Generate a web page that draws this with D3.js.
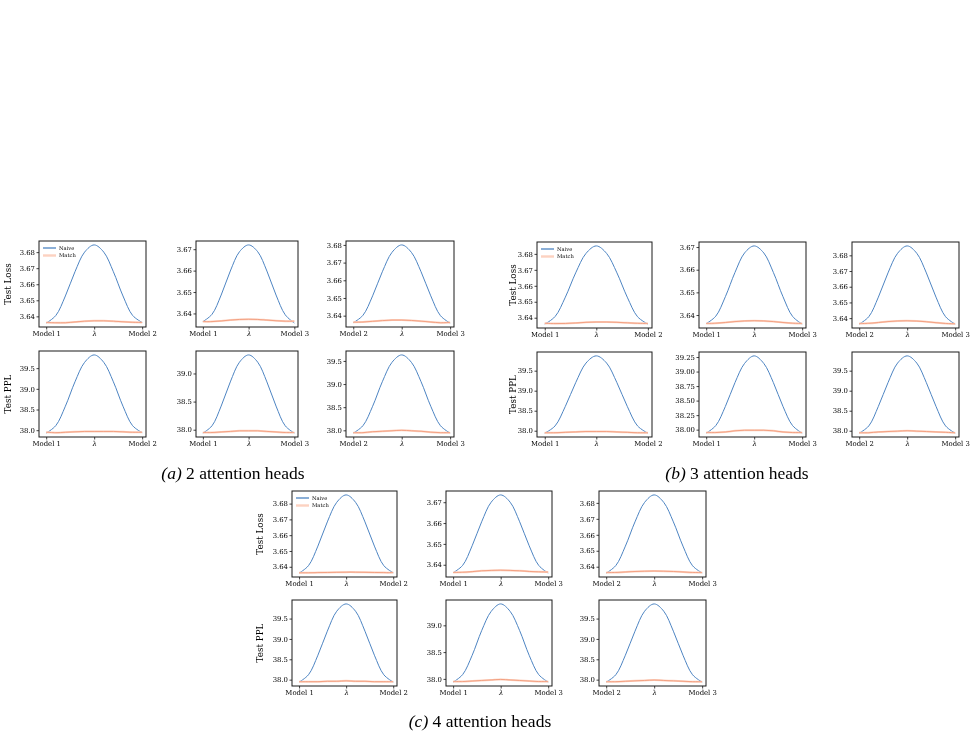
<!DOCTYPE html>
<html><head><meta charset="utf-8">
<script src="https://cdn.jsdelivr.net/npm/d3@7"></script>
<style>body{margin:0;background:#fff}svg{display:block}</style>
</head><body>
<svg id="c" width="973" height="750"></svg>
<script>
// ---------- DATA ----------
const lam = [0, 0.1, 0.2, 0.3, 0.4, 0.5, 0.6, 0.7, 0.8, 0.9, 1.0];
const seriesNames = ["Naive", "Match"];
const rowLabels = ["Test Loss", "Test PPL"];
const xLabels = [["Model 1", "λ", "Model 2"], ["Model 1", "λ", "Model 3"], ["Model 2", "λ", "Model 3"]];
const captions = ["2 attention heads", "3 attention heads", "4 attention heads"];
const captionTags = ["(a)", "(b)", "(c)"];

// Test loss, naive interpolation (per group: 3 panels)
const lossNaiveA = [
  [3.6358, 3.6405, 3.6527, 3.6678, 3.6800, 3.6845, 3.6800, 3.6678, 3.6527, 3.6406, 3.6362],
  [3.6362, 3.6396, 3.6486, 3.6598, 3.6688, 3.6720, 3.6688, 3.6598, 3.6486, 3.6394, 3.6355],
  [3.6360, 3.6402, 3.6512, 3.6648, 3.6758, 3.6800, 3.6758, 3.6648, 3.6512, 3.6400, 3.6358]];
const lossNaiveB = [
  [3.6360, 3.6407, 3.6529, 3.6681, 3.6803, 3.6850, 3.6803, 3.6681, 3.6529, 3.6406, 3.6360],
  [3.6362, 3.6395, 3.6481, 3.6588, 3.6674, 3.6705, 3.6674, 3.6588, 3.6481, 3.6394, 3.6360],
  [3.6362, 3.6409, 3.6534, 3.6688, 3.6813, 3.6860, 3.6813, 3.6688, 3.6534, 3.6409, 3.6362]];
const lossNaiveC = [
  [3.6360, 3.6407, 3.6531, 3.6684, 3.6808, 3.6855, 3.6808, 3.6684, 3.6531, 3.6407, 3.6362],
  [3.6362, 3.6397, 3.6491, 3.6606, 3.6700, 3.6735, 3.6700, 3.6606, 3.6491, 3.6397, 3.6360],
  [3.6360, 3.6407, 3.6529, 3.6681, 3.6803, 3.6850, 3.6803, 3.6681, 3.6529, 3.6406, 3.6361]];
// Test loss, matched interpolation
const lossMatchA = [
  [3.6362, 3.6360, 3.6360, 3.6365, 3.6370, 3.6372, 3.6372, 3.6370, 3.6366, 3.6363, 3.6362],
  [3.6362, 3.6362, 3.6365, 3.6369, 3.6372, 3.6373, 3.6372, 3.6369, 3.6366, 3.6364, 3.6364],
  [3.6363, 3.6364, 3.6368, 3.6372, 3.6375, 3.6375, 3.6373, 3.6369, 3.6364, 3.6360, 3.6362]];
const lossMatchB = [
  [3.6365, 3.6363, 3.6364, 3.6367, 3.6371, 3.6373, 3.6373, 3.6371, 3.6368, 3.6365, 3.6364],
  [3.6363, 3.6364, 3.6367, 3.6371, 3.6374, 3.6375, 3.6374, 3.6371, 3.6367, 3.6364, 3.6363],
  [3.6365, 3.6367, 3.6372, 3.6378, 3.6382, 3.6383, 3.6381, 3.6377, 3.6371, 3.6366, 3.6364]];
const lossMatchC = [
  [3.6362, 3.6362, 3.6363, 3.6364, 3.6365, 3.6366, 3.6366, 3.6365, 3.6364, 3.6363, 3.6363],
  [3.6363, 3.6364, 3.6367, 3.6371, 3.6373, 3.6374, 3.6373, 3.6371, 3.6368, 3.6366, 3.6365],
  [3.6363, 3.6364, 3.6367, 3.6370, 3.6372, 3.6373, 3.6372, 3.6370, 3.6367, 3.6364, 3.6363]];
// Test perplexity, naive
const pplNaiveA = [
  [37.93, 38.11, 38.58, 39.17, 39.64, 39.82, 39.64, 39.17, 38.58, 38.11, 37.94],
  [37.94, 38.07, 38.42, 38.85, 39.20, 39.33, 39.20, 38.85, 38.42, 38.07, 37.94],
  [37.94, 38.10, 38.52, 39.05, 39.47, 39.63, 39.47, 39.05, 38.52, 38.10, 37.94]];
const pplNaiveB = [
  [37.94, 38.12, 38.61, 39.20, 39.69, 39.87, 39.69, 39.20, 38.61, 38.12, 37.94],
  [37.94, 38.07, 38.40, 38.81, 39.14, 39.27, 39.14, 38.81, 38.40, 38.07, 37.94],
  [37.94, 38.12, 38.61, 39.20, 39.69, 39.87, 39.69, 39.20, 38.61, 38.12, 37.94]];
const pplNaiveC = [
  [37.94, 38.12, 38.60, 39.19, 39.68, 39.86, 39.68, 39.19, 38.60, 38.12, 37.94],
  [37.94, 38.08, 38.44, 38.90, 39.26, 39.40, 39.26, 38.90, 38.44, 38.08, 37.94],
  [37.94, 38.12, 38.60, 39.19, 39.68, 39.86, 39.68, 39.19, 38.60, 38.12, 37.94]];
// Test perplexity, matched
const pplMatchA = [
  [37.95, 37.94, 37.95, 37.96, 37.97, 37.97, 37.97, 37.97, 37.96, 37.95, 37.95],
  [37.95, 37.95, 37.96, 37.97, 37.98, 37.98, 37.98, 37.97, 37.96, 37.95, 37.95],
  [37.95, 37.95, 37.97, 37.98, 37.99, 38.00, 37.99, 37.98, 37.96, 37.95, 37.95]];
const pplMatchB = [
  [37.95, 37.95, 37.96, 37.97, 37.98, 37.98, 37.98, 37.97, 37.96, 37.95, 37.95],
  [37.95, 37.95, 37.96, 37.98, 37.99, 37.99, 37.99, 37.98, 37.96, 37.95, 37.95],
  [37.95, 37.95, 37.97, 37.98, 37.99, 38.00, 37.99, 37.98, 37.97, 37.96, 37.95]];
const pplMatchC = [
  [37.95, 37.95, 37.95, 37.96, 37.96, 37.97, 37.96, 37.96, 37.95, 37.95, 37.95],
  [37.95, 37.95, 37.96, 37.97, 37.98, 37.99, 37.98, 37.97, 37.96, 37.95, 37.95],
  [37.95, 37.95, 37.96, 37.97, 37.98, 37.99, 37.98, 37.97, 37.96, 37.95, 37.95]];

// Tick labels
const lossTicks5 = ["3.64", "3.65", "3.66", "3.67", "3.68"];
const lossTicks4 = ["3.64", "3.65", "3.66", "3.67"];
const pplTicks4 = ["38.0", "38.5", "39.0", "39.5"];
const pplTicks3 = ["38.0", "38.5", "39.0"];
const pplTicksQ = ["38.00", "38.25", "38.50", "38.75", "39.00", "39.25"];
const lossTickSets = [[lossTicks5, lossTicks4, lossTicks5], [lossTicks5, lossTicks4, lossTicks5], [lossTicks5, lossTicks4, lossTicks5]];
const pplTickSets = [[pplTicks4, pplTicks3, pplTicks4], [pplTicks4, pplTicksQ, pplTicks4], [pplTicks4, pplTicks3, pplTicks4]];

// ---------- LAYOUT ----------
const groups = [
  {cols: [[39, 146], [196, 298], [346, 454]], rows: [[241, 327], [351, 437]], ylab: 11, cap: [233, 479]},
  {cols: [[537, 652], [699, 806], [852, 959]], rows: [[242, 328], [352, 437]], ylab: 516, cap: [737, 479]},
  {cols: [[292, 397], [446, 552], [599, 706]], rows: [[491, 577], [600, 686]], ylab: 263, cap: [480, 727]}
];
const naiveSets = [[lossNaiveA, pplNaiveA], [lossNaiveB, pplNaiveB], [lossNaiveC, pplNaiveC]];
const matchSets = [[lossMatchA, pplMatchA], [lossMatchB, pplMatchB], [lossMatchC, pplMatchC]];
const tickSets = [lossTickSets, pplTickSets];

const BLUE = "#4d84c2", ORANGE = "#f29b7a", ORANGE_LIGHT = "#fcd2c1";
const tickFont = "'DejaVu Serif', serif";
const svg = d3.select("#c");
// grayscale filter so small text is rendered without colour fringes
svg.append("defs").append("filter").attr("id", "gray")
  .attr("x", "-20%").attr("y", "-50%").attr("width", "140%").attr("height", "200%")
  .append("feColorMatrix").attr("type", "saturate").attr("values", "0");
const textLayer = svg.append("g").attr("filter", "url(#gray)");

groups.forEach((g, gi) => {
  for (let r = 0; r < 2; r++) {
    for (let c = 0; c < 3; c++) {
      const [x0, x1] = g.cols[c], [y0, y1] = g.rows[r];
      const naive = naiveSets[gi][r][c], match = matchSets[gi][r][c];
      const all = naive.concat(match);
      const lo = d3.min(all), hi = d3.max(all), pad = (hi - lo) * 0.05;
      const x = d3.scaleLinear().domain([-0.075, 1.04]).range([x0, x1]);
      const y = d3.scaleLinear().domain([lo - pad, hi + pad]).range([y1, y0]);
      const p = svg.append("g");
      const ticks = tickSets[r][gi][c];
      const yAxis = d3.axisLeft(y).tickValues(ticks.map(Number)).tickSize(2.5).tickPadding(1.5)
        .tickFormat((d, i) => ticks[i]);
      const ya = textLayer.append("g").attr("transform", `translate(${x0},0)`).call(yAxis);
      const xAxis = d3.axisBottom(x).tickValues([0, 0.5, 1]).tickSize(2.5).tickPadding(1.5)
        .tickFormat((d, i) => xLabels[c][i]);
      const xa = textLayer.append("g").attr("transform", `translate(0,${y1})`).call(xAxis);
      [ya, xa].forEach(a => {
        a.select(".domain").remove();
        a.selectAll("text").attr("font-family", tickFont).attr("font-size", 6.9).attr("fill", "#000");
        a.selectAll("line").attr("stroke", "#111").attr("stroke-width", 0.8);
      });
      xa.selectAll("text").filter((d, i) => i === 1).attr("font-style", "italic");
      const line = d3.line().x((d, i) => x(lam[i])).y(d => y(d)).curve(d3.curveCatmullRom);
      p.append("path").attr("d", line(naive)).attr("fill", "none").attr("stroke", BLUE).attr("stroke-width", 1);
      p.append("path").attr("d", line(match)).attr("fill", "none").attr("stroke", ORANGE_LIGHT).attr("stroke-width", 2);
      p.append("path").attr("d", line(match)).attr("fill", "none").attr("stroke", ORANGE).attr("stroke-width", 0.9);
      p.append("rect").attr("x", x0).attr("y", y0).attr("width", x1 - x0).attr("height", y1 - y0)
        .attr("fill", "none").attr("stroke", "#1a1a1a").attr("stroke-width", 1);
      if (c === 0) {
        textLayer.append("text").attr("transform", `translate(${g.ylab},${(y0 + y1) / 2}) rotate(-90)`)
          .attr("text-anchor", "middle").attr("font-family", tickFont).attr("font-size", 8.8)
          .attr("fill", "#000").text(rowLabels[r]);
      }
      if (c === 0 && r === 0) {
        const cols = [BLUE, ORANGE_LIGHT];
        seriesNames.forEach((s, si) => {
          const ly = y0 + 7 + si * 7.5;
          p.append("line").attr("x1", x0 + 4).attr("x2", x0 + 17).attr("y1", ly).attr("y2", ly)
            .attr("stroke", cols[si]).attr("stroke-width", si ? 2.4 : 1.3);
          textLayer.append("text").attr("x", x0 + 20).attr("y", ly + 1.8).attr("font-family", tickFont)
            .attr("font-size", 5.2).attr("fill", "#000").text(s);
        });
      }
    }
  }
  const cap = textLayer.append("text").attr("x", g.cap[0]).attr("y", g.cap[1]).attr("text-anchor", "middle")
    .attr("font-family", "'Liberation Serif', 'Times New Roman', serif").attr("font-size", 17.5).attr("fill", "#000");
  cap.append("tspan").attr("font-style", "italic").text(captionTags[gi]);
  cap.append("tspan").text(" " + captions[gi]);
});
</script>
</body></html>
